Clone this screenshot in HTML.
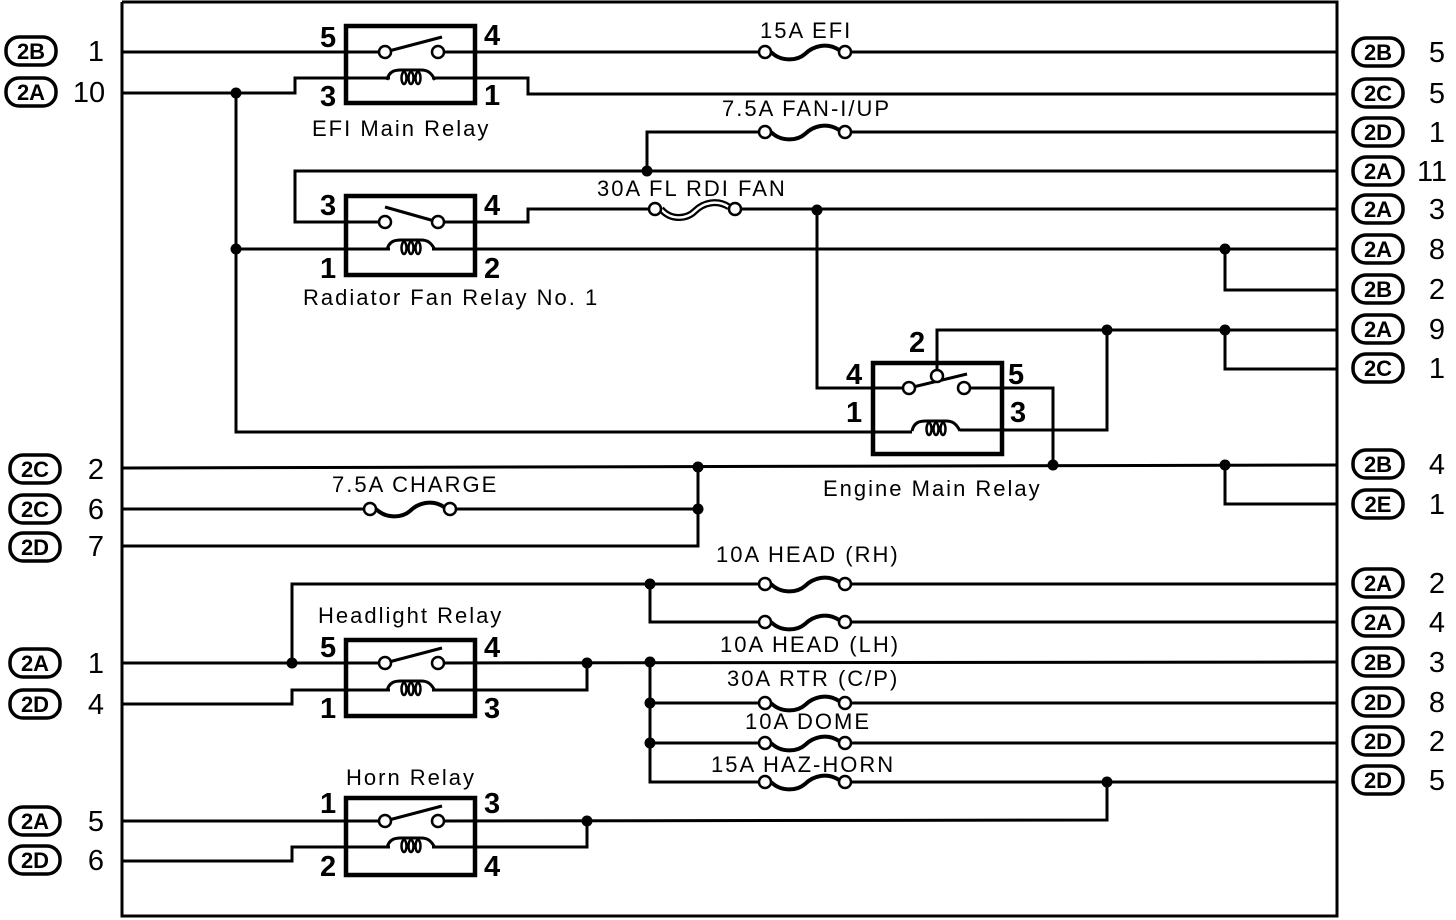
<!DOCTYPE html>
<html><head><meta charset="utf-8"><style>
html,body{margin:0;padding:0;background:#fff;}
svg{display:block;}
text{font-family:"Liberation Sans",sans-serif;fill:#000;}
.pin{font-family:"Liberation Sans Narrow","Liberation Sans",sans-serif;font-weight:bold;font-size:29px;}
.num{font-family:"Liberation Sans Narrow","Liberation Sans",sans-serif;font-size:29px;}
.lbl{font-size:22px;letter-spacing:2px;}
.bd{font-size:22px;font-weight:bold;}
</style></head><body>
<svg width="1456" height="920" viewBox="0 0 1456 920" xmlns="http://www.w3.org/2000/svg">
<defs>
<g id="fuse" fill="none" stroke="#000">
<path d="M-34,0 C-24,10 -8,9 0,2 C8,-6 22,-10 34,-2" stroke-width="4"/>
<circle cx="-40" cy="0" r="6" fill="#fff" stroke-width="2.5"/>
<circle cx="40" cy="0" r="6" fill="#fff" stroke-width="2.5"/>
</g>
<g id="fuse2" fill="none" stroke="#000">
<path d="M-34,0 C-24,12 -8,10 0,2 C8,-6 22,-10 34,-2" stroke-width="7"/>
<path d="M-34,0 C-24,12 -8,10 0,2 C8,-6 22,-10 34,-2" stroke-width="2.5" stroke="#fff"/>
<circle cx="-40" cy="0" r="6" fill="#fff" stroke-width="2.5"/>
<circle cx="40" cy="0" r="6" fill="#fff" stroke-width="2.5"/>
</g>
<g id="coil" fill="none" stroke="#000" stroke-width="3">
<path d="M-24,0 C-22,-9 -16,-10 -10,-10 L10,-10 C16,-10 20,-8 24,0"/>
<ellipse cx="-7" cy="-2" rx="2.5" ry="6" stroke-width="2.5"/>
<ellipse cx="0" cy="-2" rx="2.5" ry="6" stroke-width="2.5"/>
<ellipse cx="7" cy="-2" rx="2.5" ry="6" stroke-width="2.5"/>
</g>
<g id="sw">
<line x1="0" y1="0" x2="57" y2="-15" stroke="#000" stroke-width="3"/>
<circle cx="0" cy="0" r="6" fill="#fff" stroke="#000" stroke-width="2.5"/>
<circle cx="53" cy="0" r="6" fill="#fff" stroke="#000" stroke-width="2.5"/>
</g>
<g id="bdg"><rect x="-25" y="-14" width="50" height="28" rx="13" fill="#fff" stroke="#000" stroke-width="3.5"/></g>
</defs>

<g fill="none" stroke="#000" stroke-width="3">
<polyline points="122,2 1337,2 1337,916 122,916 122,2"/>
<line x1="122" y1="52" x2="385" y2="52"/>
<line x1="438" y1="52" x2="765" y2="52"/>
<line x1="845" y1="52" x2="1337" y2="52"/>
<polyline points="122,93 295,93 295,78 390,78"/>
<polyline points="432,78 528,78 528,94 1337,94"/>
<polyline points="236,93 236,432 912,432"/>
<polyline points="647,171 647,132 765,132"/>
<line x1="845" y1="132" x2="1337" y2="132"/>
<polyline points="1337,171 295,171 295,222 385,222"/>
<polyline points="438,222 528,222 528,209 655,209"/>
<line x1="735" y1="209" x2="1337" y2="209"/>
<line x1="236" y1="249" x2="390" y2="249"/>
<line x1="432" y1="249" x2="1337" y2="249"/>
<polyline points="1225,249 1225,290 1337,290"/>
<polyline points="817,209 817,388 909,388"/>
<polyline points="937,376 937,330 1337,330"/>
<polyline points="1225,330 1225,369 1337,369"/>
<polyline points="964,388 1053,388 1053,466"/>
<polyline points="960,430 1107,430 1107,330"/>
<line x1="122" y1="468" x2="1337" y2="465"/>
<polyline points="1225,465 1225,504 1337,504"/>
<line x1="122" y1="509" x2="370" y2="509"/>
<line x1="450" y1="509" x2="698" y2="509"/>
<polyline points="122,546 698,546 698,466"/>
<line x1="122" y1="663" x2="385" y2="663"/>
<polyline points="292,663 292,584 765,584"/>
<line x1="845" y1="584" x2="1337" y2="584"/>
<polyline points="650,584 650,622 765,622"/>
<line x1="845" y1="622" x2="1337" y2="622"/>
<line x1="438" y1="663" x2="1337" y2="662"/>
<polyline points="587,663 587,690 432,690"/>
<polyline points="122,704 292,704 292,690 390,690"/>
<polyline points="650,662 650,782 765,782"/>
<line x1="650" y1="703" x2="765" y2="703"/>
<line x1="845" y1="703" x2="1337" y2="703"/>
<line x1="650" y1="743" x2="765" y2="743"/>
<line x1="845" y1="743" x2="1337" y2="743"/>
<line x1="845" y1="782" x2="1337" y2="782"/>
<line x1="122" y1="821" x2="385" y2="821"/>
<polyline points="438,821 1107,820 1107,782"/>
<polyline points="587,821 587,847 432,847"/>
<polyline points="122,861 292,861 292,847 390,847"/>
</g>

<g fill="none" stroke="#000" stroke-width="4.5">
<rect x="346" y="26" width="129" height="77"/>
<rect x="346" y="196" width="129" height="79"/>
<rect x="873" y="363" width="129" height="91"/>
<rect x="346" y="640" width="129" height="76"/>
<rect x="346" y="798" width="129" height="77"/>
</g>

<use href="#sw" x="385" y="52"/>
<g transform="translate(385,222)">
<line x1="0" y1="-15" x2="53" y2="0" stroke="#000" stroke-width="3"/>
<circle cx="0" cy="0" r="6" fill="#fff" stroke="#000" stroke-width="2.5"/>
<circle cx="53" cy="0" r="6" fill="#fff" stroke="#000" stroke-width="2.5"/>
</g>
<g transform="translate(909,388)">
<line x1="0" y1="0" x2="58" y2="-14" stroke="#000" stroke-width="3"/>
<circle cx="0" cy="0" r="6" fill="#fff" stroke="#000" stroke-width="2.5"/>
<circle cx="28" cy="-12" r="6" fill="#fff" stroke="#000" stroke-width="2.5"/>
<circle cx="55" cy="0" r="6" fill="#fff" stroke="#000" stroke-width="2.5"/>
</g>
<use href="#sw" x="385" y="663"/>
<use href="#sw" x="385" y="821"/>

<use href="#coil" x="411" y="80"/>
<use href="#coil" x="411" y="250"/>
<use href="#coil" x="936" y="431"/>
<use href="#coil" x="411" y="691"/>
<use href="#coil" x="411" y="848"/>

<use href="#fuse" x="805" y="52"/>
<use href="#fuse" x="805" y="132"/>
<use href="#fuse2" x="695" y="209"/>
<use href="#fuse" x="410" y="509"/>
<use href="#fuse" x="805" y="584"/>
<use href="#fuse" x="805" y="622"/>
<use href="#fuse" x="805" y="703"/>
<use href="#fuse" x="805" y="743"/>
<use href="#fuse" x="805" y="782"/>

<g fill="#000">
<circle cx="236" cy="93" r="5.5"/><circle cx="236" cy="249" r="5.5"/>
<circle cx="647" cy="171" r="5.5"/><circle cx="817" cy="210" r="5.5"/>
<circle cx="1225" cy="249" r="5.5"/><circle cx="1107" cy="330" r="5.5"/>
<circle cx="1225" cy="330" r="5.5"/><circle cx="1053" cy="465" r="5.5"/>
<circle cx="1225" cy="465" r="5.5"/><circle cx="698" cy="467" r="5.5"/>
<circle cx="698" cy="509" r="5.5"/><circle cx="292" cy="663" r="5.5"/>
<circle cx="587" cy="663" r="5.5"/><circle cx="650" cy="584" r="5.5"/>
<circle cx="650" cy="662" r="5.5"/><circle cx="650" cy="703" r="5.5"/>
<circle cx="650" cy="743" r="5.5"/><circle cx="1107" cy="782" r="5.5"/>
<circle cx="587" cy="821" r="5.5"/>
</g>

<g class="pin">
<text x="320" y="47">5</text><text x="484" y="45">4</text>
<text x="320" y="106">3</text><text x="484" y="105">1</text>
<text x="320" y="215">3</text><text x="484" y="215">4</text>
<text x="320" y="278">1</text><text x="484" y="278">2</text>
<text x="909" y="352">2</text>
<text x="846" y="384">4</text><text x="1008" y="384">5</text>
<text x="846" y="422">1</text><text x="1010" y="422">3</text>
<text x="320" y="657">5</text><text x="484" y="657">4</text>
<text x="320" y="718">1</text><text x="484" y="718">3</text>
<text x="320" y="813">1</text><text x="484" y="813">3</text>
<text x="320" y="876">2</text><text x="484" y="876">4</text>
</g>

<g class="lbl">
<text x="312" y="136">EFI Main Relay</text>
<text x="303" y="305">Radiator Fan Relay No. 1</text>
<text x="823" y="496">Engine Main Relay</text>
<text x="318" y="623">Headlight Relay</text>
<text x="346" y="785">Horn Relay</text>
<text x="760" y="38">15A EFI</text>
<text x="722" y="116">7.5A FAN-I/UP</text>
<text x="597" y="196">30A FL RDI FAN</text>
<text x="332" y="492">7.5A CHARGE</text>
<text x="716" y="562">10A HEAD (RH)</text>
<text x="720" y="652">10A HEAD (LH)</text>
<text x="727" y="686">30A RTR (C/P)</text>
<text x="745" y="729">10A DOME</text>
<text x="711" y="772">15A HAZ-HORN</text>
</g>

<g>
<use href="#bdg" x="31" y="51"/><use href="#bdg" x="31" y="92"/>
<use href="#bdg" x="35" y="469"/><use href="#bdg" x="35" y="509"/><use href="#bdg" x="35" y="547"/>
<use href="#bdg" x="35" y="663"/><use href="#bdg" x="35" y="704"/>
<use href="#bdg" x="35" y="821"/><use href="#bdg" x="35" y="860"/>
</g>
<g class="bd" text-anchor="middle">
<text x="31" y="59">2B</text><text x="31" y="100">2A</text>
<text x="35" y="477">2C</text><text x="35" y="517">2C</text><text x="35" y="555">2D</text>
<text x="35" y="671">2A</text><text x="35" y="712">2D</text>
<text x="35" y="829">2A</text><text x="35" y="868">2D</text>
</g>
<g class="num" text-anchor="middle">
<text x="96" y="61">1</text><text x="89" y="102">10</text>
<text x="96" y="479">2</text><text x="96" y="519">6</text><text x="96" y="556">7</text>
<text x="96" y="673">1</text><text x="96" y="714">4</text>
<text x="96" y="831">5</text><text x="96" y="870">6</text>
</g>

<g>
<use href="#bdg" x="1378" y="52"/><use href="#bdg" x="1378" y="93"/>
<use href="#bdg" x="1378" y="132"/><use href="#bdg" x="1378" y="171"/>
<use href="#bdg" x="1378" y="209"/><use href="#bdg" x="1378" y="249"/>
<use href="#bdg" x="1378" y="289"/><use href="#bdg" x="1378" y="329"/>
<use href="#bdg" x="1378" y="368"/><use href="#bdg" x="1378" y="464"/>
<use href="#bdg" x="1378" y="504"/><use href="#bdg" x="1378" y="583"/>
<use href="#bdg" x="1378" y="622"/><use href="#bdg" x="1378" y="662"/>
<use href="#bdg" x="1378" y="702"/><use href="#bdg" x="1378" y="741"/>
<use href="#bdg" x="1378" y="780"/>
</g>
<g class="bd" text-anchor="middle">
<text x="1378" y="60">2B</text><text x="1378" y="101">2C</text>
<text x="1378" y="140">2D</text><text x="1378" y="179">2A</text>
<text x="1378" y="217">2A</text><text x="1378" y="257">2A</text>
<text x="1378" y="297">2B</text><text x="1378" y="337">2A</text>
<text x="1378" y="376">2C</text><text x="1378" y="472">2B</text>
<text x="1378" y="512">2E</text><text x="1378" y="591">2A</text>
<text x="1378" y="630">2A</text><text x="1378" y="670">2B</text>
<text x="1378" y="710">2D</text><text x="1378" y="749">2D</text>
<text x="1378" y="788">2D</text>
</g>
<g class="num" text-anchor="middle">
<text x="1437" y="62">5</text><text x="1437" y="103">5</text>
<text x="1437" y="142">1</text><text x="1432" y="181">11</text>
<text x="1437" y="219">3</text><text x="1437" y="259">8</text>
<text x="1437" y="299">2</text><text x="1437" y="339">9</text>
<text x="1437" y="378">1</text><text x="1437" y="474">4</text>
<text x="1437" y="514">1</text><text x="1437" y="593">2</text>
<text x="1437" y="632">4</text><text x="1437" y="672">3</text>
<text x="1437" y="712">8</text><text x="1437" y="751">2</text>
<text x="1437" y="790">5</text>
</g>
</svg>
</body></html>
